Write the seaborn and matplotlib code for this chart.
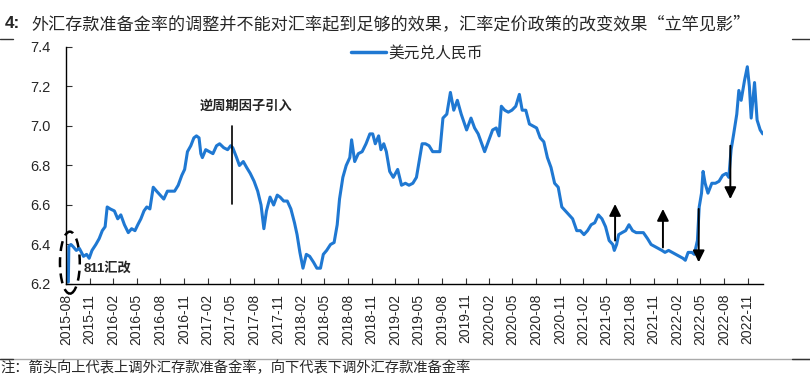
import pandas as pd
import matplotlib.pyplot as plt
import matplotlib.dates as mdates
from matplotlib.patches import Ellipse
from matplotlib.lines import Line2D
import seaborn as sns

# USD/CNY (roughly semi-monthly)
dates = [
    "2015-08-03", "2015-08-10", "2015-08-12", "2015-08-20", "2015-08-28", "2015-09-10", "2015-09-22",
    "2015-10-08", "2015-10-20", "2015-10-30", "2015-11-10", "2015-11-25", "2015-12-08", "2015-12-20",
    "2015-12-31",
    "2016-01-08", "2016-01-20", "2016-02-05", "2016-02-18", "2016-03-01", "2016-03-15", "2016-03-30",
    "2016-04-12", "2016-04-25", "2016-05-06", "2016-05-18", "2016-05-30", "2016-06-10", "2016-06-22",
    "2016-07-05", "2016-07-18", "2016-08-01", "2016-08-15", "2016-08-29", "2016-09-12", "2016-09-26",
    "2016-10-10", "2016-10-24", "2016-11-04", "2016-11-15", "2016-11-28", "2016-12-10", "2016-12-20",
    "2016-12-30",
    "2017-01-06", "2017-01-12", "2017-01-25", "2017-02-08", "2017-02-22", "2017-03-08", "2017-03-20",
    "2017-04-05", "2017-04-20", "2017-05-02", "2017-05-10", "2017-05-25", "2017-06-05", "2017-06-20",
    "2017-07-03", "2017-07-17", "2017-08-01", "2017-08-15", "2017-08-28", "2017-09-08", "2017-09-18",
    "2017-10-02", "2017-10-16", "2017-10-30", "2017-11-10", "2017-11-24", "2017-12-08", "2017-12-22",
    "2018-01-05", "2018-01-15", "2018-01-26", "2018-02-07", "2018-02-20", "2018-03-05", "2018-03-20",
    "2018-04-02", "2018-04-16", "2018-04-27", "2018-05-10", "2018-05-25", "2018-06-08", "2018-06-20",
    "2018-06-29", "2018-07-12", "2018-07-25", "2018-08-08", "2018-08-15", "2018-08-27", "2018-09-10",
    "2018-09-25", "2018-10-10", "2018-10-25", "2018-11-05", "2018-11-15", "2018-11-28", "2018-12-07",
    "2018-12-18", "2018-12-28",
    "2019-01-10", "2019-01-24", "2019-02-10", "2019-02-25", "2019-03-12", "2019-03-26", "2019-04-10",
    "2019-04-24", "2019-05-08", "2019-05-16", "2019-05-29", "2019-06-12", "2019-06-26", "2019-07-10",
    "2019-07-24", "2019-08-05", "2019-08-20", "2019-09-03", "2019-09-16", "2019-09-30", "2019-10-15",
    "2019-11-05", "2019-11-22", "2019-12-06", "2019-12-20",
    "2020-01-14", "2020-01-31", "2020-02-14", "2020-02-28", "2020-03-10", "2020-03-19", "2020-04-01",
    "2020-04-15", "2020-04-29", "2020-05-14", "2020-05-28", "2020-06-08", "2020-06-22", "2020-07-06",
    "2020-07-20", "2020-08-03", "2020-08-17", "2020-08-31", "2020-09-14", "2020-09-28", "2020-10-12",
    "2020-10-26", "2020-11-09", "2020-11-23", "2020-12-07", "2020-12-21",
    "2021-01-06", "2021-01-20", "2021-02-03", "2021-02-17", "2021-03-03", "2021-03-17", "2021-03-31",
    "2021-04-14", "2021-04-28", "2021-05-12", "2021-05-26", "2021-06-01", "2021-06-10", "2021-06-18",
    "2021-07-01", "2021-07-15", "2021-07-28", "2021-08-11", "2021-08-25", "2021-09-08", "2021-09-22",
    "2021-10-08", "2021-10-22", "2021-11-05", "2021-11-19", "2021-12-03", "2021-12-15", "2021-12-29",
    "2022-01-12", "2022-01-26", "2022-02-09", "2022-02-23", "2022-03-04", "2022-03-15", "2022-03-29",
    "2022-04-08", "2022-04-20", "2022-04-27", "2022-05-06", "2022-05-12", "2022-05-20", "2022-05-31",
    "2022-06-15", "2022-06-29", "2022-07-13", "2022-07-27", "2022-08-10", "2022-08-20", "2022-08-29",
    "2022-09-08", "2022-09-20", "2022-09-28", "2022-10-07", "2022-10-20", "2022-10-31", "2022-11-08",
    "2022-11-15", "2022-11-28", "2022-12-08", "2022-12-20", "2022-12-30",
]
usdcny = [
    6.21, 6.21, 6.39, 6.40, 6.39, 6.37, 6.38,
    6.34, 6.35, 6.33, 6.37, 6.40, 6.43, 6.47,
    6.49,
    6.59, 6.58, 6.57, 6.53, 6.55, 6.50, 6.46,
    6.48, 6.47, 6.50, 6.53, 6.57, 6.59, 6.58,
    6.69, 6.67, 6.65, 6.63, 6.67, 6.67, 6.67,
    6.70, 6.75, 6.78, 6.87, 6.90, 6.94, 6.95,
    6.94,
    6.86, 6.84, 6.88, 6.87, 6.86, 6.90, 6.91,
    6.89, 6.88, 6.90, 6.89, 6.84, 6.80, 6.82,
    6.79, 6.76, 6.72, 6.67, 6.60, 6.48, 6.57,
    6.64, 6.60, 6.65, 6.64, 6.62, 6.62, 6.58,
    6.51, 6.45, 6.36, 6.28, 6.35, 6.34, 6.31,
    6.28, 6.28, 6.35, 6.37, 6.40, 6.41, 6.50,
    6.63, 6.74, 6.80, 6.84, 6.93, 6.82, 6.86,
    6.87, 6.91, 6.96, 6.96, 6.91, 6.95, 6.88,
    6.91, 6.87,
    6.77, 6.74, 6.78, 6.70, 6.71, 6.70, 6.71,
    6.74, 6.85, 6.91, 6.91, 6.90, 6.87, 6.87,
    6.87, 7.04, 7.06, 7.17, 7.08, 7.13, 7.06,
    6.98, 7.04, 6.99, 6.96,
    6.87, 6.93, 6.98, 6.99, 6.95, 7.10, 7.08,
    7.07, 7.08, 7.10, 7.16, 7.08, 7.08, 7.01,
    7.00, 6.99, 6.94, 6.92, 6.84, 6.79, 6.71,
    6.69, 6.59, 6.57, 6.55, 6.53,
    6.47, 6.47, 6.45, 6.47, 6.50, 6.51, 6.55,
    6.53, 6.49, 6.42, 6.40, 6.37, 6.40, 6.45,
    6.46, 6.47, 6.50, 6.47, 6.46, 6.46, 6.46,
    6.43, 6.40, 6.39, 6.38, 6.37, 6.36, 6.37,
    6.36, 6.35, 6.34, 6.33, 6.32, 6.36, 6.36,
    6.35, 6.42, 6.59, 6.66, 6.77, 6.71, 6.66,
    6.71, 6.71, 6.72, 6.75, 6.76, 6.74, 6.88,
    6.96, 7.06, 7.18, 7.13, 7.23, 7.30, 7.20,
    7.04, 7.22, 7.03, 6.98, 6.96,
]

# FX deposit reserve ratio changes: (date, arrow start, arrow end)
rrr_dates = ["2021-06-04", "2021-12-07", "2022-04-25", "2022-08-26"]
rrr_from = [6.42, 6.385, 6.58, 6.90]
rrr_to = [6.605, 6.58, 6.31, 6.63]

ccf_date = "2017-05-08"   # counter-cyclical factor
yticks = [6.2, 6.4, 6.6, 6.8, 7.0, 7.2, 7.4]

df = pd.DataFrame({"date": pd.to_datetime(dates), "rate": usdcny})

sns.set_style("ticks")
plt.rcParams['font.family'] = ['Liberation Sans', 'Noto Sans CJK SC', 'DejaVu Sans']
cjk = ['Noto Sans CJK SC', 'DejaVu Sans']

fig = plt.figure(figsize=(8.1, 3.79), dpi=100)
ax = fig.add_axes([0.0815, 0.2507, 0.8605, 0.6253])

blue = '#1f78d2'
sns.lineplot(data=df, x="date", y="rate", ax=ax, color=blue, linewidth=2.2,
             label="美元兑人民币")

ax.set_xlim(pd.Timestamp("2015-08-01"), pd.Timestamp("2022-12-31"))
ax.set_ylim(6.2, 7.4)
ax.set_yticks(yticks)
ax.set_yticklabels([f"{v:.1f}" for v in yticks], fontsize=10.5)
ax.xaxis.set_major_locator(mdates.MonthLocator(bymonth=[2, 5, 8, 11]))
ax.xaxis.set_major_formatter(mdates.DateFormatter('%Y-%m'))
plt.setp(ax.get_xticklabels(), rotation=90, fontsize=10)
ax.tick_params(axis='x', direction='in', length=4, width=0.8, pad=7, color='#333333')
ax.tick_params(axis='y', direction='in', length=4, width=0.8, pad=11, color='#333333')
ax.set_xlabel("")
ax.set_ylabel("")
for s in ['top', 'right']:
    ax.spines[s].set_visible(False)
for s in ['left', 'bottom']:
    ax.spines[s].set_color('black')
    ax.spines[s].set_linewidth(1.0)

leg = ax.legend(loc='center', bbox_to_anchor=(0.515, 0.86), bbox_transform=fig.transFigure,
                frameon=False, handlelength=2.2, handletextpad=0.2,
                prop={'family': cjk, 'size': 11.3})
for line in leg.get_lines():
    line.set_linewidth(2.5)

# counter-cyclical factor marker
cd = pd.Timestamp(ccf_date)
ax.plot([cd, cd], [6.605, 7.0], color='black', linewidth=1.2)
ax.text(pd.Timestamp("2017-07-01"), 7.10, "逆周期因子引入", ha='center', va='center',
        fontsize=9.5, fontweight='bold', family=cjk)

# RRR arrows
for d, y0, y1 in zip(rrr_dates, rrr_from, rrr_to):
    ax.annotate('', xy=(pd.Timestamp(d), y1), xytext=(pd.Timestamp(d), y0),
                arrowprops=dict(arrowstyle='-|>,head_width=0.35,head_length=0.7',
                                color='black', lw=1.4, mutation_scale=10,
                                shrinkA=0, shrinkB=0))

# 811 reform
ex = mdates.date2num(pd.Timestamp("2015-08-16"))
ax.add_patch(Ellipse((ex, 6.308), width=77, height=0.314, fill=False,
                     edgecolor='black', linestyle=(0, (4, 2.5)), linewidth=1.8,
                     clip_on=False))
ax.text(pd.Timestamp("2015-10-10"), 6.28, "811汇改", ha='left', va='center',
        fontsize=9.5, fontweight='bold', family=['Liberation Sans', 'Noto Sans CJK SC'])

# title, separators, footnote
fig.text(5 / 810, 1 - 24 / 379, "4:", fontsize=12.3, fontweight='bold', va='center',
         family=['Liberation Sans'])
fig.text(31 / 810, 1 - 24 / 379,
         "外汇存款准备金率的调整并不能对汇率起到足够的效果，汇率定价政策的改变效果“立竿见影”",
         fontsize=12.3, va='center', family=cjk)
fig.add_artist(Line2D([0, 13 / 810], [1 - 39 / 379] * 2, color='#333333', lw=1.0))
fig.add_artist(Line2D([792 / 810, 1], [1 - 39 / 379] * 2, color='#333333', lw=1.0))
fig.add_artist(Line2D([0, 1], [1 - 359 / 379] * 2, color='#aaaaaa', lw=1.0))
fig.add_artist(Line2D([0, 13 / 810], [1 - 359 / 379] * 2, color='#333333', lw=1.0))
fig.add_artist(Line2D([792 / 810, 1], [1 - 359 / 379] * 2, color='#333333', lw=1.0))
fig.text(0, 1 - 368 / 379, "注：箭头向上代表上调外汇存款准备金率，向下代表下调外汇存款准备金率",
         fontsize=10.3, va='center', family=cjk)

fig.savefig("out.png", dpi=100)
